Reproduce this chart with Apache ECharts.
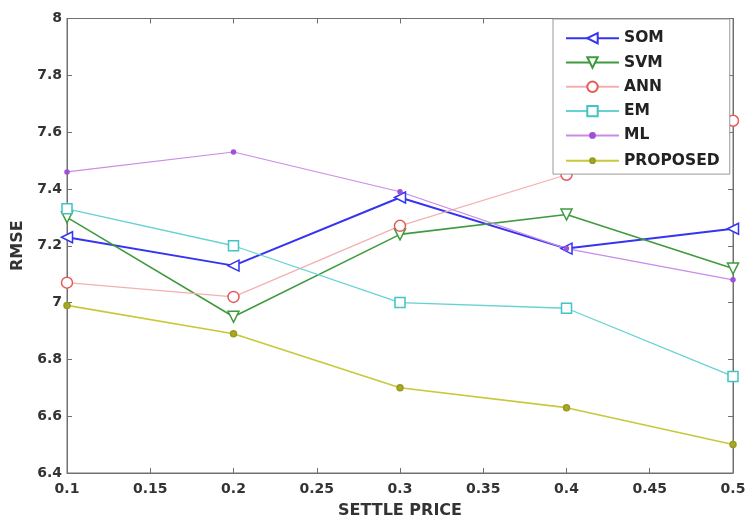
<!DOCTYPE html>
<html>
<head>
<meta charset="utf-8">
<script src="https://cdn.jsdelivr.net/npm/echarts@6/dist/echarts.min.js"></script>
<style>html,body{margin:0;padding:0;background:#fff}#c{width:748px;height:520px}</style>
</head>
<body>
<div id="c"></div>
<script>
const settlePrice = [0.1, 0.2, 0.3, 0.4, 0.5];
const som = [7.23, 7.13, 7.37, 7.19, 7.26];
const svm = [7.30, 6.95, 7.24, 7.31, 7.12];
const ann = [7.07, 7.02, 7.27, 7.45, 7.64];
const em = [7.33, 7.20, 7.00, 6.98, 6.74];
const ml = [7.46, 7.53, 7.39, 7.19, 7.08];
const proposed = [6.99, 6.89, 6.70, 6.63, 6.50];
const legendBig = ['SOM', 'SVM', 'ANN', 'EM'];
const legendSmall = ['ML', 'PROPOSED'];

const pairs = v => settlePrice.map((x, i) => [x, v[i]]);
const FONT = 'DejaVu Sans';
const tick = { fontFamily: FONT, fontWeight: 'bold', fontSize: 14, color: '#333' };
const nameTxt = { fontFamily: FONT, fontWeight: 'bold', fontSize: 16, color: '#333' };
const legTxt = { fontFamily: FONT, fontWeight: 'bold', fontSize: 15.5, lineHeight: 15, color: '#222' };

function mk(name, vals, lineColor, markColor, symbol, size, rotate, width, fill) {
  return {
    name, type: 'line', data: pairs(vals), xAxisIndex: 0, yAxisIndex: 0,
    symbol, symbolSize: size, symbolRotate: rotate, showAllSymbol: true, clip: false,
    lineStyle: { color: lineColor, width },
    itemStyle: { color: fill || '#fff', borderColor: markColor, borderWidth: 1.5 },
    emphasis: { disabled: true }, animation: false
  };
}

const axisGray = '#707070';
const chart = echarts.init(document.getElementById('c'), null, { renderer: 'canvas' });
chart.setOption({
  animation: false,
  backgroundColor: '#fff',
  grid: { left: 67, right: 15, top: 18.5, bottom: 47, outerBoundsMode: 'none', containLabel: false,
    show: true, borderColor: axisGray, borderWidth: 1 },
  legend: [{
    orient: 'vertical', left: 553, top: 19, z: 4,
    data: legendBig,
    backgroundColor: '#fff', borderColor: '#999', borderWidth: 1,
    padding: [11.2, 66, 55, 12],
    itemWidth: 53, itemHeight: 13, itemGap: 8.3,
    textStyle: legTxt
  }, {
    orient: 'vertical', left: 565, top: 127.4, z: 5,
    data: legendSmall,
    padding: 0,
    itemWidth: 53, itemHeight: 6, itemGap: 9.3,
    textStyle: legTxt
  }],
  xAxis: [{
    type: 'value', min: 0.1, max: 0.5, interval: 0.05,
    name: 'SETTLE PRICE', nameLocation: 'middle', nameGap: 30,
    nameTextStyle: nameTxt,
    axisLine: { lineStyle: { color: axisGray } },
    axisTick: { inside: true, length: 5, lineStyle: { color: axisGray } },
    axisLabel: Object.assign({}, tick, { margin: 9, formatter: v => String(+v.toFixed(2)) }),
    splitLine: { show: false }
  }, {
    type: 'value', min: 0.1, max: 0.5, interval: 0.05, position: 'top',
    axisLine: { lineStyle: { color: axisGray } },
    axisTick: { inside: true, length: 5, lineStyle: { color: axisGray } },
    axisLabel: { show: false }, splitLine: { show: false }
  }],
  yAxis: [{
    type: 'value', min: 6.4, max: 8, interval: 0.2,
    name: 'RMSE', nameLocation: 'middle', nameGap: 38,
    nameTextStyle: nameTxt,
    axisLine: { show: true, lineStyle: { color: axisGray } },
    axisTick: { inside: true, length: 5, lineStyle: { color: axisGray } },
    axisLabel: Object.assign({}, tick, { margin: 5, formatter: v => String(+v.toFixed(1)) }),
    splitLine: { show: false }
  }, {
    type: 'value', min: 6.4, max: 8, interval: 0.2, position: 'right',
    axisLine: { show: true, lineStyle: { color: axisGray } },
    axisTick: { show: true, inside: true, length: 5, lineStyle: { color: axisGray } },
    axisLabel: { show: false }, splitLine: { show: false }
  }],
  series: [
    mk('SOM', som, '#3434f2', '#3434f2', 'triangle', 11, 90, 2, '#fff'),
    mk('SVM', svm, '#3f9a3f', '#3f9a3f', 'triangle', 11, 180, 1.6, '#fff'),
    mk('ANN', ann, '#f3b0b0', '#e65a5a', 'circle', 11, 0, 1.2, '#fff'),
    mk('EM', em, '#66d2d2', '#40c4c4', 'rect', 10, 0, 1.3, '#fff'),
    mk('ML', ml, '#c98ce6', '#a050d8', 'circle', 4, 0, 1.2, '#a050d8'),
    mk('PROPOSED', proposed, '#c8c83a', '#9a9a20', 'circle', 6, 0, 1.6, '#a8a828')
  ]
});
</script>
</body>
</html>
